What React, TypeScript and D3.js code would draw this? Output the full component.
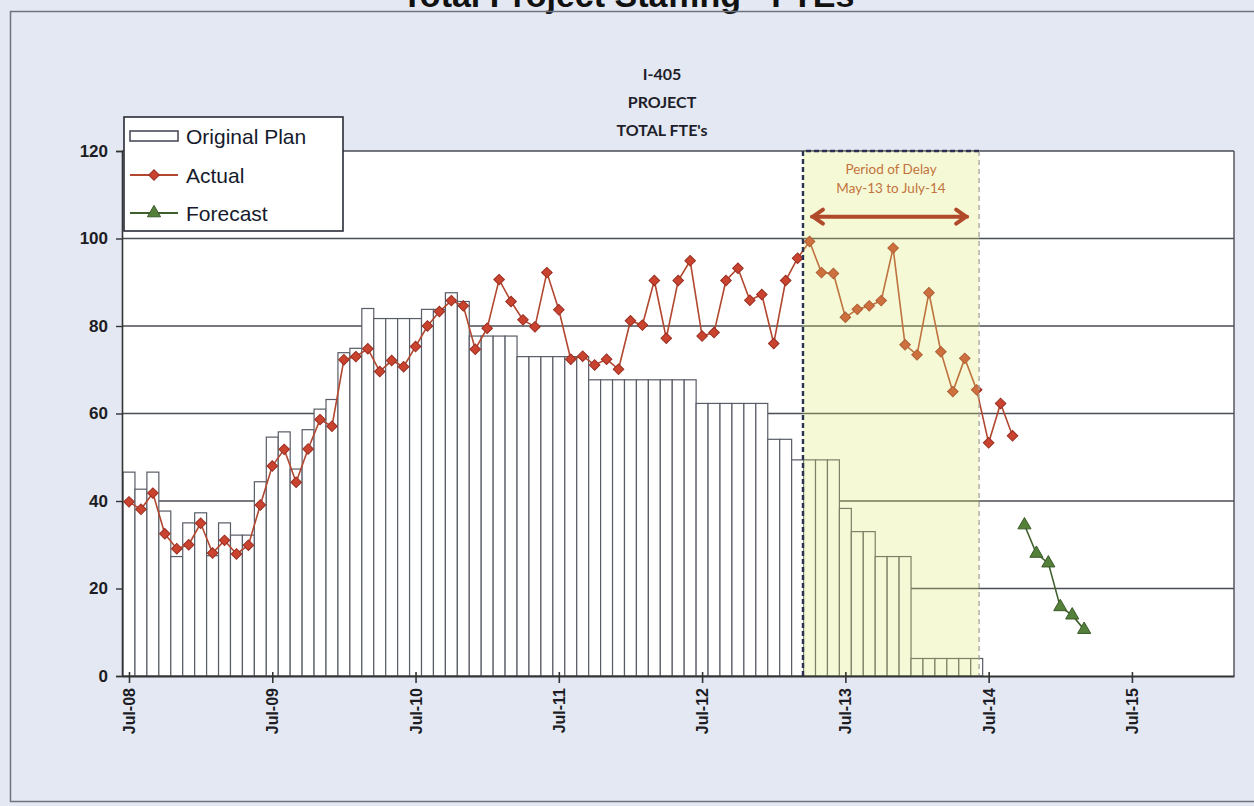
import { useEffect, useRef } from 'react';
import * as d3 from 'd3';

// monthly FTEs, month 0 = Jul-08
const planFte = [
  46.6, 42.7, 46.6, 37.7, 27.3, 35.0, 37.3, 27.5, 35.0, 32.2, 32.2, 44.4,
  54.6, 55.8, 47.3, 56.3, 61.0, 63.2, 73.9, 74.9, 84.0, 81.7, 81.7, 81.7,
  81.7, 83.8, 83.8, 87.6, 85.6, 77.7, 77.7, 77.7, 77.7, 73.0, 73.0, 73.0,
  73.0, 73.0, 73.0, 67.7, 67.7, 67.7, 67.7, 67.7, 67.7, 67.7, 67.7, 67.7,
  62.3, 62.3, 62.3, 62.3, 62.3, 62.3, 54.1, 54.1, 49.4, 49.4, 49.4, 49.4,
  38.3, 33.0, 33.0, 27.3, 27.3, 27.3, 4.0, 4.0, 4.0, 4.0, 4.0, 4.0,
];

const actualFte = [
  39.8, 38.1, 41.8, 32.5, 29.1, 30.0, 34.9, 28.1, 31.0, 27.9, 29.9, 39.1,
  48.0, 51.8, 44.3, 51.9, 58.6, 57.1, 72.3, 73.0, 74.8, 69.6, 72.1, 70.7,
  75.3, 80.0, 83.3, 85.8, 84.6, 74.7, 79.5, 90.6, 85.6, 81.4, 79.8, 92.2,
  83.7, 72.4, 73.1, 71.1, 72.4, 70.1, 81.2, 80.2, 90.4, 77.2, 90.4, 94.9,
  77.7, 78.5, 90.4, 93.2, 85.9, 87.2, 76.0, 90.4, 95.5, 99.3, 92.2, 92.0,
  82.0, 83.8, 84.6, 85.8, 97.8, 75.7, 73.4, 87.6, 74.1, 65.0, 72.6, 65.4,
  53.3, 62.3, 54.9,
];

const forecastStart = 75; // Oct-14
const forecastFte = [34.5, 28.0, 25.8, 15.8, 13.9, 10.6];

const yearTicks = [0, 12, 24, 36, 48, 60, 72, 84];
const yearLabels = ['Jul-08', 'Jul-09', 'Jul-10', 'Jul-11', 'Jul-12', 'Jul-13', 'Jul-14', 'Jul-15'];
const yTicks = [0, 20, 40, 60, 80, 100, 120];

const delayWindow = [56.45, 71.2];
const delayArrow = [57.2, 70.2];
const delayText = ['Period of Delay', 'May-13 to July-14'];
const chartTitle = ['I-405', 'PROJECT', "TOTAL FTE's"];
const legendLabels = ['Original Plan', 'Actual', 'Forecast'];

const W = 1254;
const H = 806;

const Chart = () => {
  const ref = useRef<SVGSVGElement>(null);

  useEffect(() => {
    document.body.style.margin = '0';
    const svg = d3.select(ref.current);
    svg.selectAll('*').remove();

    const left = 122;
    const right = 1234;
    const top = 151;
    const bottom = 676;

    const x = d3.scaleLinear().domain([-0.586, 92.55]).range([left, right]);
    const y = d3.scaleLinear().domain([0, 120]).range([bottom, top]);
    const bw = x(1) - x(0);

    // page / scan background
    svg.append('rect').attr('width', W).attr('height', H).attr('fill', '#e4e8f2');
    svg
      .append('text')
      .attr('x', 628)
      .attr('y', 7)
      .attr('text-anchor', 'middle')
      .attr('font-family', 'Liberation Sans, Arial, sans-serif')
      .attr('font-weight', 'bold')
      .attr('font-size', 34)
      .attr('fill', '#111')
      .text('Total Project Staffing - FTEs');
    svg
      .append('rect')
      .attr('x', 10.5)
      .attr('y', 11.5)
      .attr('width', 1270)
      .attr('height', 790)
      .attr('fill', 'none')
      .attr('stroke', '#6e7380')
      .attr('stroke-width', 1.5);

    // plot area
    svg
      .append('rect')
      .attr('x', left)
      .attr('y', top)
      .attr('width', right - left)
      .attr('height', bottom - top)
      .attr('fill', '#fff');

    svg
      .append('g')
      .selectAll('line')
      .data(yTicks.filter((v) => v > 0))
      .join('line')
      .attr('x1', left)
      .attr('x2', right)
      .attr('y1', (d) => y(d))
      .attr('y2', (d) => y(d))
      .attr('stroke', '#4a4d55')
      .attr('stroke-width', 1.4);
    svg
      .append('line')
      .attr('x1', right)
      .attr('x2', right)
      .attr('y1', top)
      .attr('y2', bottom)
      .attr('stroke', '#4a4d55')
      .attr('stroke-width', 1.4);

    // original plan bars
    svg
      .append('g')
      .selectAll('rect')
      .data(planFte)
      .join('rect')
      .attr('x', (d, i) => x(i - 0.5))
      .attr('width', bw)
      .attr('y', (d) => y(d))
      .attr('height', (d) => y(0) - y(d))
      .attr('fill', '#fff')
      .attr('stroke', '#585c66')
      .attr('stroke-width', 1.2);

    // actual
    const line = d3
      .line<number>()
      .x((d, i) => x(i))
      .y((d) => y(d));
    svg
      .append('path')
      .attr('d', line(actualFte))
      .attr('fill', 'none')
      .attr('stroke', '#b2472f')
      .attr('stroke-width', 1.6);
    const diamond = d3.symbol().type(d3.symbolSquare).size(56);
    svg
      .append('g')
      .selectAll('path')
      .data(actualFte)
      .join('path')
      .attr('d', diamond)
      .attr('transform', (d, i) => `translate(${x(i)},${y(d)}) rotate(45)`)
      .attr('fill', '#c9432f')
      .attr('stroke', '#9a2e22')
      .attr('stroke-width', 1);

    // forecast
    const fline = d3
      .line<number>()
      .x((d, i) => x(forecastStart + i))
      .y((d) => y(d));
    svg
      .append('path')
      .attr('d', fline(forecastFte))
      .attr('fill', 'none')
      .attr('stroke', '#3e5f2c')
      .attr('stroke-width', 1.6);
    const tri = d3.symbol().type(d3.symbolTriangle).size(75);
    svg
      .append('g')
      .selectAll('path')
      .data(forecastFte)
      .join('path')
      .attr('d', tri)
      .attr('transform', (d, i) => `translate(${x(forecastStart + i)},${y(d)})`)
      .attr('fill', '#55803a')
      .attr('stroke', '#3a5a28')
      .attr('stroke-width', 1);

    // period of delay
    const dx0 = x(delayWindow[0]);
    const dx1 = x(delayWindow[1]);
    svg
      .append('rect')
      .attr('x', dx0)
      .attr('y', top)
      .attr('width', dx1 - dx0)
      .attr('height', bottom - top)
      .attr('fill', 'rgb(222,234,105)')
      .attr('opacity', 0.27);
    svg
      .append('line')
      .attr('x1', dx1)
      .attr('x2', dx1)
      .attr('y1', top)
      .attr('y2', bottom)
      .attr('stroke', '#a9a49c')
      .attr('stroke-width', 1.3)
      .attr('stroke-dasharray', '5,4');
    svg
      .append('path')
      .attr('d', `M${dx0},${bottom}V${top}H${dx1}`)
      .attr('fill', 'none')
      .attr('stroke', '#2b3150')
      .attr('stroke-width', 2.4)
      .attr('stroke-dasharray', '5,3');

    const ax0 = x(delayArrow[0]);
    const ax1 = x(delayArrow[1]);
    const ay = y(105);
    svg
      .append('path')
      .attr(
        'd',
        `M${ax0},${ay}H${ax1}M${ax0 + 11},${ay - 7}L${ax0 + 1},${ay}L${ax0 + 11},${ay + 7}` +
          `M${ax1 - 11},${ay - 7}L${ax1 - 1},${ay}L${ax1 - 11},${ay + 7}`
      )
      .attr('fill', 'none')
      .attr('stroke', '#b04a2a')
      .attr('stroke-width', 4)
      .attr('stroke-linecap', 'round')
      .attr('stroke-linejoin', 'round');
    svg
      .append('g')
      .selectAll('text')
      .data(delayText)
      .join('text')
      .attr('x', (dx0 + dx1) / 2)
      .attr('y', (d, i) => y(114.8) + i * 19)
      .attr('text-anchor', 'middle')
      .attr('font-family', 'Lato, Open Sans, sans-serif')
      .attr('font-size', 13.5)
      .attr('fill', '#c2733c')
      .text((d) => d);

    // axes
    const yAxis = svg
      .append('g')
      .attr('transform', `translate(${left},0)`)
      .call(d3.axisLeft(y).tickValues(yTicks).tickSize(6).tickPadding(8));
    yAxis.select('.domain').attr('stroke', '#333').attr('stroke-width', 1.6);
    yAxis.selectAll('line').attr('stroke', '#333').attr('stroke-width', 1.4);
    yAxis
      .selectAll('text')
      .attr('font-family', 'Liberation Sans, Arial, sans-serif')
      .attr('font-weight', 'bold')
      .attr('font-size', 17)
      .attr('fill', '#1c1c24');

    const xAxis = svg
      .append('g')
      .attr('transform', `translate(0,${bottom})`)
      .call(
        d3
          .axisBottom(x)
          .tickValues(yearTicks)
          .tickFormat((d, i) => yearLabels[i])
          .tickSize(7)
          .tickSizeOuter(0)
      );
    xAxis.select('.domain').attr('stroke', '#333').attr('stroke-width', 2);
    xAxis.selectAll('line').attr('y1', -4).attr('stroke', '#333').attr('stroke-width', 1.6);
    xAxis
      .selectAll('text')
      .attr('transform', 'rotate(-90)')
      .attr('text-anchor', 'end')
      .attr('x', -12)
      .attr('y', 0)
      .attr('dy', '0.35em')
      .attr('font-family', 'Liberation Sans, Arial, sans-serif')
      .attr('font-weight', 'bold')
      .attr('font-size', 16)
      .attr('fill', '#1c1c24');

    // chart title
    svg
      .append('g')
      .selectAll('text')
      .data(chartTitle)
      .join('text')
      .attr('x', 662)
      .attr('y', (d, i) => 80 + i * 28)
      .attr('text-anchor', 'middle')
      .attr('font-family', 'Lato, Open Sans, sans-serif')
      .attr('font-weight', 'bold')
      .attr('font-size', 16)
      .attr('fill', '#1e1e2a')
      .text((d) => d);

    // legend
    const lg = svg.append('g').attr('transform', 'translate(124,117)');
    lg.append('rect')
      .attr('width', 219)
      .attr('height', 114)
      .attr('fill', '#fff')
      .attr('stroke', '#2a2c38')
      .attr('stroke-width', 1.6);
    const rows = [19, 58, 96];
    lg.append('rect')
      .attr('x', 6)
      .attr('y', rows[0] - 5)
      .attr('width', 48)
      .attr('height', 10)
      .attr('fill', '#fff')
      .attr('stroke', '#4a4e5c')
      .attr('stroke-width', 1.6);
    lg.append('line')
      .attr('x1', 6)
      .attr('x2', 54)
      .attr('y1', rows[1])
      .attr('y2', rows[1])
      .attr('stroke', '#b2472f')
      .attr('stroke-width', 1.8);
    lg.append('path')
      .attr('d', diamond)
      .attr('transform', `translate(30,${rows[1]}) rotate(45)`)
      .attr('fill', '#c9432f')
      .attr('stroke', '#9a2e22');
    lg.append('line')
      .attr('x1', 6)
      .attr('x2', 54)
      .attr('y1', rows[2])
      .attr('y2', rows[2])
      .attr('stroke', '#3e5f2c')
      .attr('stroke-width', 1.8);
    lg.append('path')
      .attr('d', tri)
      .attr('transform', `translate(30,${rows[2]})`)
      .attr('fill', '#55803a')
      .attr('stroke', '#3a5a28');
    lg.selectAll('text.lbl')
      .data(legendLabels)
      .join('text')
      .attr('class', 'lbl')
      .attr('x', 62)
      .attr('y', (d, i) => rows[i])
      .attr('dy', '0.36em')
      .attr('font-family', 'Liberation Sans, Arial, sans-serif')
      .attr('font-size', 21)
      .attr('fill', '#161a2c')
      .text((d) => d);
  }, []);

  return <svg ref={ref} width={W} height={H} style={{ display: 'block' }} />;
};

export default function App() {
  return (
    <div>
      <Chart />
    </div>
  );
}
